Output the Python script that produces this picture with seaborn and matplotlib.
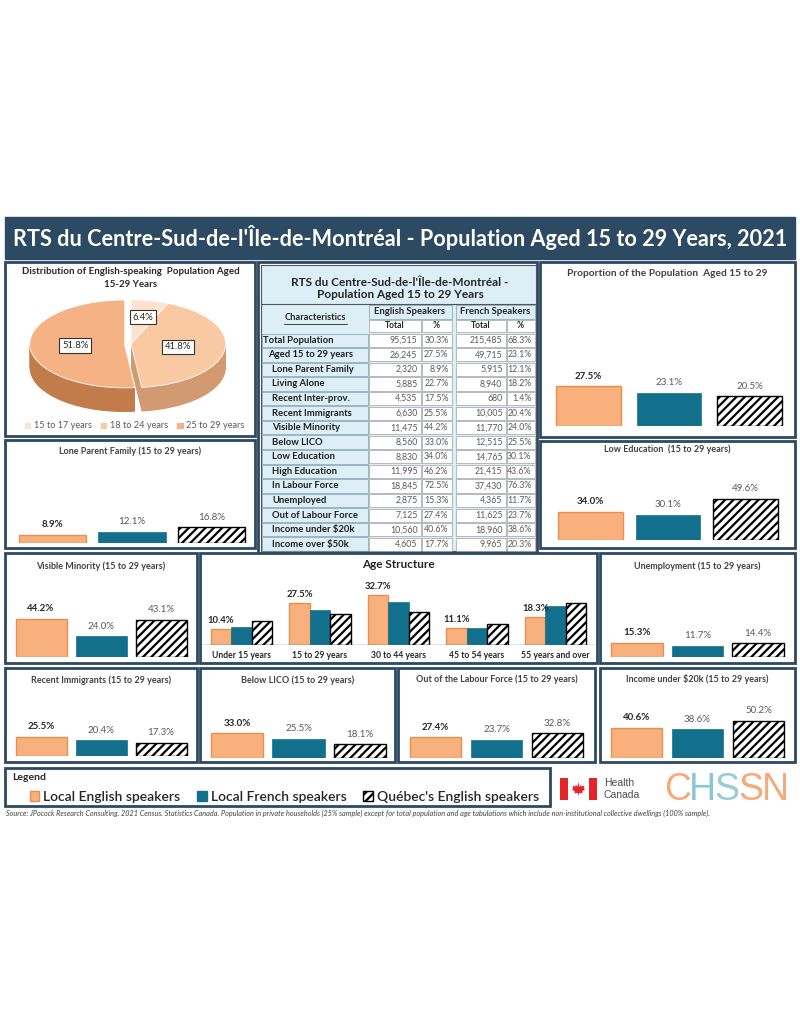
import matplotlib
matplotlib.use("Agg")
import matplotlib.pyplot as plt
from matplotlib.patches import Rectangle, Polygon, Patch
import numpy as np
import pandas as pd
import seaborn as sns

sns.set_theme(style="white")
plt.rcParams["font.family"] = ["Lato", "DejaVu Sans"]
plt.rcParams["hatch.linewidth"] = 1.6

W, H = 800, 1035

NAVY = "#2C4A62"
ORANGE = "#F8B07C"
ORANGE_EDGE = "#E8914F"
TEAL = "#12708C"
DARK = "#262626"
GREY = "#595959"

# ---- data ----
speakers = ["Local English speakers", "Local French speakers", "Québec's English speakers"]

pie_groups = ["15 to 17 years", "18 to 24 years", "25 to 29 years"]
pie_shares = [6.4, 41.8, 51.8]

proportion_15_29 = [27.5, 23.1, 20.5]
lone_parent = [8.9, 12.1, 16.8]
low_education = [34.0, 30.1, 49.6]
visible_minority = [44.2, 24.0, 43.1]
unemployment = [15.3, 11.7, 14.4]
recent_immigrants = [25.5, 20.4, 17.3]
below_lico = [33.0, 25.5, 18.1]
out_of_labour = [27.4, 23.7, 32.8]
income_under_20k = [40.6, 38.6, 50.2]

age_groups = ["Under 15 years", "15 to 29 years", "30 to 44 years", "45 to 54 years", "55 years and over"]
age_english = [10.4, 27.5, 32.7, 11.1, 18.3]
age_french = [11.9, 23.1, 28.0, 11.0, 25.5]
age_quebec = [15.8, 20.5, 22.0, 14.0, 27.7]

table_rows = ["Total Population", "Aged 15 to 29 years", "Lone Parent Family", "Living Alone",
              "Recent Inter-prov.", "Recent Immigrants", "Visible Minority", "Below LICO",
              "Low Education", "High Education", "In Labour Force", "Unemployed",
              "Out of Labour Force", "Income under $20k", "Income over $50k"]
eng_total = ["95,515", "26,245", "2,320", "5,885", "4,535", "6,630", "11,475", "8,560",
             "8,830", "11,995", "18,845", "2,875", "7,125", "10,560", "4,605"]
eng_pct = ["30.3%", "27.5%", "8.9%", "22.7%", "17.5%", "25.5%", "44.2%", "33.0%",
           "34.0%", "46.2%", "72.5%", "15.3%", "27.4%", "40.6%", "17.7%"]
fr_total = ["215,485", "49,715", "5,915", "8,940", "680", "10,005", "11,770", "12,515",
            "14,765", "21,415", "37,430", "4,365", "11,625", "18,960", "9,965"]
fr_pct = ["68.3%", "23.1%", "12.1%", "18.2%", "1.4%", "20.4%", "24.0%", "25.5%",
          "30.1%", "43.6%", "76.3%", "11.7%", "23.7%", "38.6%", "20.3%"]

source_note = ("Source: JPocock Research Consulting. 2021 Census. Statistics Canada. Population in private households "
               "(25% sample) except for total population and age tabulations which include non-institutional "
               "collective dwellings (100% sample).")

fig = plt.figure(figsize=(8, 10.35), dpi=100)
fig.patch.set_facecolor("white")


def fx(x):
    return x / W


def fy(y):
    return 1 - y / H


def px_axes(x0, y0, x1, y1):
    ax = fig.add_axes([x0 / W, 1 - y1 / H, (x1 - x0) / W, (y1 - y0) / H])
    ax.set_facecolor("none")
    return ax


def panel(x0, y0, x1, y1, face="white", lw=2):
    fig.add_artist(Rectangle((x0 / W, 1 - y1 / H), (x1 - x0) / W, (y1 - y0) / H,
                             transform=fig.transFigure, facecolor=face, edgecolor=NAVY,
                             linewidth=lw, zorder=-1))


def style_bars(bars, kind):
    for b in bars:
        if kind == 0:
            b.set_facecolor(ORANGE)
            b.set_edgecolor(ORANGE_EDGE)
            b.set_linewidth(1)
        elif kind == 1:
            b.set_facecolor(TEAL)
            b.set_edgecolor(TEAL)
            b.set_linewidth(0.5)
        else:
            b.set_facecolor("white")
            b.set_edgecolor("black")
            b.set_hatch("////")
            b.set_linewidth(1)


#
def speaker_bars(values, title, box, title_y, x_span, base_y, px_per_pct, width, title_size=6.5):
    x0, y0, x1, y1 = box
    panel(*box)
    fig.text(fx((x0 + x1) / 2), fy(title_y), title, ha="center", va="center",
             fontsize=title_size, fontweight="bold", color="#404040")
    top_y = title_y + 10
    ax = px_axes(x_span[0], top_y, x_span[1], base_y)
    df = pd.DataFrame({"group": speakers, "value": values})
    sns.barplot(data=df, x="group", y="value", hue="group", hue_order=speakers,
                palette=[ORANGE, TEAL, "white"], saturation=1, width=width,
                legend=False, ax=ax)
    for i, bar in enumerate(ax.patches):
        style_bars([bar], i)
        ax.annotate(f"{values[i]:.1f}%", (bar.get_x() + bar.get_width() / 2, bar.get_height()),
                    xytext=(0, 4), textcoords="offset points", ha="center", va="bottom",
                    fontsize=7, fontweight="bold" if i == 0 else "normal",
                    color=DARK if i == 0 else GREY, annotation_clip=False)
    ax.set_xlim(-0.5, 2.5)
    ax.set_ylim(0, (base_y - top_y) / px_per_pct)
    ax.axis("off")


# ---- title bar ----
fig.add_artist(Rectangle((fx(5), fy(259)), (790) / W, 42 / H, transform=fig.transFigure,
                         facecolor=NAVY, edgecolor=NAVY, zorder=-1))
fig.text(0.5, fy(238), "RTS du Centre-Sud-de-l'Île-de-Montréal - Population Aged 15 to 29 Years, 2021",
         ha="center", va="center", color="white", fontsize=15.6, fontweight="bold")

# ---- pie ----
panel(5, 262, 255, 436)
fig.text(fx(131), fy(278), "Distribution of English-speaking  Population Aged\n15-29 Years",
         ha="center", va="center", fontsize=7, fontweight="bold", color=DARK, linespacing=1.45)
ax_pie = px_axes(25, 295, 237, 418)
side_cols = ["#E2BFA3", "#D29A70", "#C27C4B"]
top_cols = ["#FCE2CF", "#F9C9A3", "#F5B285"]
explode = [0, 0, 0.07]
for d in np.linspace(0.55, 0.02, 30):
    ax_pie.pie(pie_shares, startangle=90, counterclock=False, colors=side_cols,
               explode=explode, center=(0, -d), wedgeprops=dict(linewidth=0))
wedges, _ = ax_pie.pie(pie_shares, startangle=90, counterclock=False, colors=top_cols,
                       explode=explode, wedgeprops=dict(linewidth=0.6, edgecolor="white"))
ax_pie.set_aspect("auto")
ax_pie.set_xlim(-1.12, 1.12)
ax_pie.set_ylim(-1.69, 1.11)
ax_pie.axis("off")

cum = np.cumsum(pie_shares)
mids = np.deg2rad(90 - (cum - np.array(pie_shares) / 2) * 3.6)
radii = [0.62, 0.5, 0.52]
for share, ang, r, ex in zip(pie_shares, mids, radii, explode):
    ax_pie.text((r + ex) * np.cos(ang), (r + ex) * np.sin(ang), f"{share:.1f}%",
                ha="center", va="center", fontsize=6.8, color=DARK,
                bbox=dict(boxstyle="square,pad=0.3", fc="white", ec="#333333", lw=0.8))

fig.legend(wedges, pie_groups, loc="center", bbox_to_anchor=(fx(134), fy(426)), ncol=3,
           frameon=False, fontsize=6.6, handlelength=0.8, handleheight=0.8,
           handletextpad=0.3, columnspacing=0.9, labelcolor=GREY)

# ---- table ----
panel(258, 262, 537, 553)
ax_t = px_axes(258, 262, 537, 553)
ax_t.set_xlim(258, 537)
ax_t.set_ylim(553, 262)
ax_t.axis("off")
ax_t.add_patch(Rectangle((261, 264.5), 274.5, 286.5, fc="#DCEEF6", ec="#555555", lw=0.8))
ax_t.text(400, 282, "RTS du Centre-Sud-de-l'Île-de-Montréal -", ha="center", va="center",
          fontsize=8.5, fontweight="bold", color=DARK)
ax_t.text(400, 295, "Population Aged 15 to 29 Years", ha="center", va="center",
          fontsize=8.5, fontweight="bold", color=DARK)
ax_t.plot([261, 535.5], [304, 304], color="#555555", lw=0.8)

cols = [(368, 421), (421, 452), (455, 506), (506, 535)]
for (c0, c1), name in [((368, 452), "English Speakers"), ((455, 535), "French Speakers")]:
    ax_t.add_patch(Rectangle((c0 + 0.5, 305), c1 - c0 - 1, 14, fc="none", ec="#7F9FB0", lw=0.5))
    ax_t.text((c0 + c1) / 2, 312, name, ha="center", va="center", fontsize=6.8,
              fontweight="bold", color=DARK)
for (c0, c1), name in zip(cols, ["Total", "%", "Total", "%"]):
    ax_t.add_patch(Rectangle((c0 + 0.5, 320), c1 - c0 - 1, 12, fc="white", ec="#8C8C8C", lw=0.4))
    ax_t.text((c0 + c1) / 2, 326, name, ha="center", va="center", fontsize=6.2,
              fontweight="bold", color=DARK)
ax_t.text(315, 318, "Characteristics", ha="center", va="center", fontsize=6.7,
          fontweight="bold", color=DARK)
ax_t.plot([284, 347], [323.5, 323.5], color=DARK, lw=0.6)

ROW_H = 14.57
indent = [263, 268] + [272] * (len(table_rows) - 2)
for i, label in enumerate(table_rows):
    top = 333 + i * ROW_H
    mid = top + ROW_H / 2
    ax_t.add_patch(Rectangle((261.5, top + 0.5), 106, ROW_H - 1, fc="none", ec="#7F9FB0", lw=0.5))
    ax_t.text(indent[i], mid, label, ha="left", va="center", fontsize=6.8,
              fontweight="bold", color="#1F1F1F")
    for (c0, c1), val in zip(cols, [eng_total[i], eng_pct[i], fr_total[i], fr_pct[i]]):
        ax_t.add_patch(Rectangle((c0 + 0.5, top + 0.7), c1 - c0 - 1, ROW_H - 1.4,
                                 fc="white", ec="#8C8C8C", lw=0.4))
        ax_t.text(c1 - 3.5, mid, val, ha="right", va="center", fontsize=6.3, color=GREY)

# ---- small bar panels ----
speaker_bars(proportion_15_29, "Proportion of the Population  Aged 15 to 29",
             (540, 262, 795, 437), 274, (548, 790), 426, 1.45, 0.8, title_size=7.3)
speaker_bars(lone_parent, "Lone Parent Family (15 to 29 years)",
             (5, 440, 255, 548), 451, (13, 251), 543, 0.93, 0.85)
speaker_bars(low_education, "Low Education  (15 to 29 years)",
             (540, 441, 795, 548), 449, (552, 784), 540, 0.83, 0.84)
speaker_bars(visible_minority, "Visible Minority (15 to 29 years)",
             (5, 553, 197, 663), 566, (11, 191), 657, 0.87, 0.85)
speaker_bars(unemployment, "Unemployment (15 to 29 years)",
             (600, 553, 795, 663), 566, (607, 788), 657, 0.94, 0.86)
speaker_bars(recent_immigrants, "Recent Immigrants (15 to 29 years)",
             (5, 668, 197, 762), 680, (11, 191), 756, 0.76, 0.85)
speaker_bars(below_lico, "Below LICO (15 to 29 years)",
             (200, 668, 395, 762), 680, (206, 391), 757.5, 0.74, 0.85)
speaker_bars(out_of_labour, "Out of the Labour Force (15 to 29 years)",
             (398, 668, 595, 762), 679, (405, 588), 757.5, 0.74, 0.85)
speaker_bars(income_under_20k, "Income under $20k (15 to 29 years)",
             (600, 668, 795, 762), 679, (606, 789), 757.5, 0.73, 0.85)

# ---- age structure ----
panel(200, 553, 597, 663)
fig.text(fx(398), fy(565), "Age Structure", ha="center", va="center", fontsize=8.5,
         fontweight="bold", color=DARK)
age_df = pd.DataFrame({
    "age": age_groups * 3,
    "pct": age_english + age_french + age_quebec,
    "group": np.repeat(speakers, len(age_groups)),
})
ax_age = px_axes(202, 575, 595, 645)
sns.barplot(data=age_df, x="age", y="pct", hue="group", hue_order=speakers,
            palette=[ORANGE, TEAL, "white"], saturation=1, width=0.78, legend=False, ax=ax_age)
for k, cont in enumerate(ax_age.containers):
    style_bars(cont, k)
ax_age.bar_label(ax_age.containers[0], labels=[f"{v:.1f}%" for v in age_english], padding=3,
                 fontsize=6.8, fontweight="bold", color=DARK)
ax_age.set_xlim(-0.5, 4.5)
ax_age.set_ylim(0, 70 / 1.52)
for s in ax_age.spines.values():
    s.set_visible(False)
ax_age.axhline(0, color="#4472C4", lw=1)
ax_age.set_yticks([])
ax_age.set_xlabel("")
ax_age.set_ylabel("")
ax_age.tick_params(axis="x", length=0, pad=4, labelsize=6.2, labelcolor=DARK)
for t in ax_age.get_xticklabels():
    t.set_fontweight("bold")

# ---- legend ----
panel(5, 768, 550, 806)
fig.text(fx(12), fy(778), "Legend", ha="left", va="center", fontsize=7.5, fontweight="bold", color=DARK)
handles = [Patch(fc=ORANGE, ec=ORANGE_EDGE, lw=1), Patch(fc=TEAL, ec=TEAL),
           Patch(fc="white", ec="black", hatch="////", lw=1)]
fig.legend(handles, speakers, loc="center left", bbox_to_anchor=(fx(17), fy(797)), ncol=3,
           frameon=False, handlelength=0.7, handleheight=0.7,
           handletextpad=0.3, columnspacing=1.2, prop={"weight": "semibold", "size": 10})

# ---- logos ----
RED = "#E3262A"
for x0 in (560, 589):
    fig.add_artist(Rectangle((fx(x0), fy(800)), 8 / W, 22 / H, transform=fig.transFigure,
                             fc=RED, ec="none"))
leaf = [(0, -1), (0.1, -0.55), (0.6, -0.65), (0.5, -0.4), (0.95, 0.0), (0.75, 0.1),
        (0.85, 0.5), (0.45, 0.35), (0.35, 0.6), (0.15, 0.3), (0, 1), (-0.15, 0.3),
        (-0.35, 0.6), (-0.45, 0.35), (-0.85, 0.5), (-0.75, 0.1), (-0.95, 0.0),
        (-0.5, -0.4), (-0.6, -0.65), (-0.1, -0.55)]
fig.add_artist(Polygon([(fx(578.5 + 7 * a), fy(789 - 7 * b)) for a, b in leaf],
                       closed=True, transform=fig.transFigure, fc=RED, ec="none"))
fig.text(fx(604), fy(783), "Health", ha="left", va="center", fontsize=7.5, color="#4D4D4D",
         family="Liberation Sans")
fig.text(fx(604), fy(795), "Canada", ha="left", va="center", fontsize=7.5, color="#4D4D4D",
         family="Liberation Sans")
for ch, x0, col in zip("CHSSN", [664, 689, 714, 738, 762],
                       ["#F5A06A", "#7DC1CF", "#8CC6D2", "#F5A06A", "#F5A06A"]):
    fig.text(fx(x0), fy(790), ch, ha="left", va="center", fontsize=27, color=col,
             family="Liberation Sans", alpha=0.9)

fig.text(fx(6), fy(813), source_note, ha="left", va="center", fontsize=5.2, style="italic",
         color="#404040")

fig.savefig("out.png", dpi=100)
plt.close(fig)
